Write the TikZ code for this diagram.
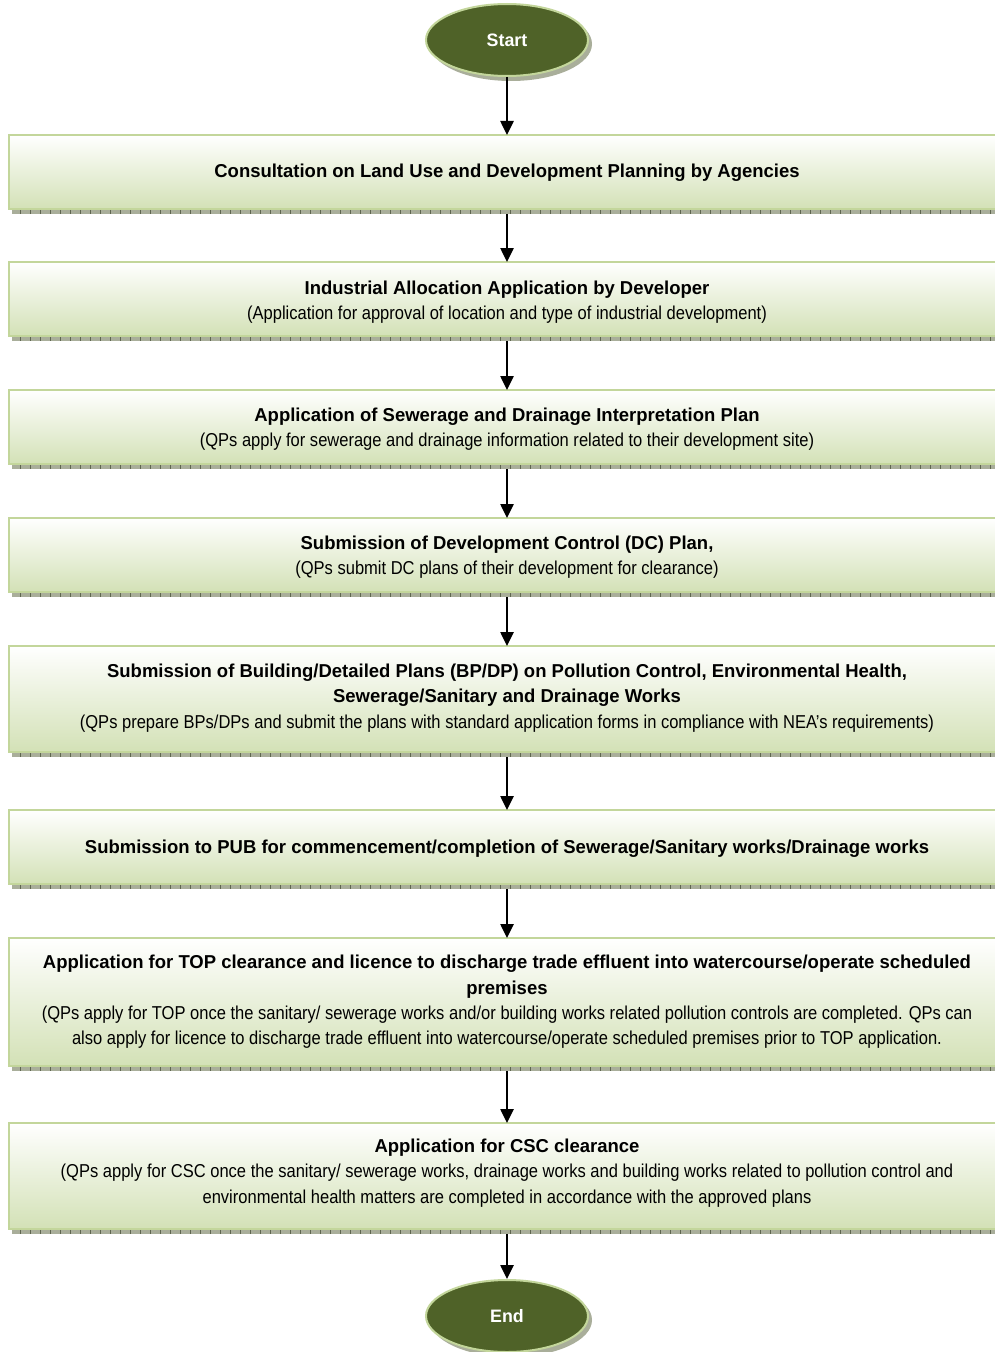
\documentclass[tikz,border=0pt]{standalone}
\usepackage{fontspec}
\setmainfont{Liberation Sans}[FakeStretch=0.885, BoldFeatures={FakeStretch=0.99}]
\usetikzlibrary{arrows.meta,shapes.geometric}
\definecolor{boxborder}{HTML}{C3D69B}
\definecolor{boxbottom}{HTML}{D3E1B6}
\definecolor{ovalfill}{HTML}{4F6228}
\definecolor{shadowc}{HTML}{A9AE9A}
\definecolor{tickc}{HTML}{5F6650}
\tikzset{
  stepbox/.style={top color=white, bottom color=boxbottom},
  txt/.style={font=\fontsize{14pt}{19pt}\selectfont, align=center, text=black},
  oval/.style={ellipse, draw=boxborder, line width=1.5pt, fill=ovalfill, minimum width=121.5pt, minimum height=54pt, text=white, font=\fontsize{13.5pt}{16pt}\selectfont\bfseries},
  arr/.style={-{Triangle[length=10.5pt,width=10pt]}, line width=1.1pt, black}
}
\newcommand{\mkbox}[3]{%
  \fill[shadowc] (12,#3) rectangle (1000,#3+5);
  \foreach \xx in {20,30,...,995} {\draw[tickc, line width=0.4pt] (\xx,#3) -- (\xx,#3+5);}
  \shade[stepbox] (9,#2) rectangle (1002,#3);
  \draw[boxborder, line width=1.5pt] (9,#2) rectangle (1002,#3);
  \coordinate (#1t) at (507,#2);
  \coordinate (#1b) at (507,#3+5);
}
\begin{document}
\begin{tikzpicture}[x=0.75pt,y=-0.75pt]
\useasboundingbox (0,0) rectangle (995,1352);
\fill[white] (0,0) rectangle (995,1352);
% start oval
\fill[shadowc] (511,44) ellipse (81 and 37);
\node[oval] (start) at (507,40) {Start};
\mkbox{b1}{135}{209}
\mkbox{b2}{262}{336}
\mkbox{b3}{390}{464}
\mkbox{b4}{518}{592}
\mkbox{b5}{646}{752}
\mkbox{b6}{810}{884}
\mkbox{b7}{938}{1066}
\mkbox{b8}{1123}{1229}
\fill[shadowc] (511,1320) ellipse (81 and 37);
\node[oval] (end) at (507,1316) {End};

\node[txt] (t1) at (507,173) {\bfseries Consultation on Land Use and Development Planning by Agencies};
\node[txt] (t2) at (507,302) {{\bfseries Industrial Allocation Application by Developer}\\(Application for approval of location and type of industrial development)};
\node[txt] (t3) at (507,429) {{\bfseries Application of Sewerage and Drainage Interpretation Plan}\\(QPs apply for sewerage and drainage information related to their development site)};
\node[txt] (t4) at (507,557) {{\bfseries Submission of Development Control (DC) Plan,}\\(QPs submit DC plans of their development for clearance)};
\node[txt] (t5) at (507,698) {{\bfseries Submission of Building/Detailed Plans (BP/DP) on Pollution Control, Environmental Health,}\\{\bfseries Sewerage/Sanitary and Drainage Works}\\(QPs prepare BPs/DPs and submit the plans with standard application forms in compliance with NEA's requirements)};
\node[txt] (t6) at (507,849) {\bfseries Submission to PUB for commencement/completion of Sewerage/Sanitary works/Drainage works};
\node[txt] (t7) at (507,1002) {{\bfseries Application for TOP clearance and licence to discharge trade effluent into watercourse/operate scheduled}\\{\bfseries premises}\\(QPs apply for TOP once the sanitary/ sewerage works and/or building works related pollution controls are completed. QPs can\\also apply for licence to discharge trade effluent into watercourse/operate scheduled premises prior to TOP application.};
\node[txt] (t8) at (507,1173) {{\bfseries Application for CSC clearance}\\(QPs apply for CSC once the sanitary/ sewerage works, drainage works and building works related to pollution control and\\environmental health matters are completed in accordance with the approved plans};

\draw[arr] (start.south) -- (b1t);
\draw[arr] (b1b) -- (b2t);
\draw[arr] (b2b) -- (b3t);
\draw[arr] (b3b) -- (b4t);
\draw[arr] (b4b) -- (b5t);
\draw[arr] (b5b) -- (b6t);
\draw[arr] (b6b) -- (b7t);
\draw[arr] (b7b) -- (b8t);
\draw[arr] (b8b) -- (end.north);
\end{tikzpicture}
\end{document}
